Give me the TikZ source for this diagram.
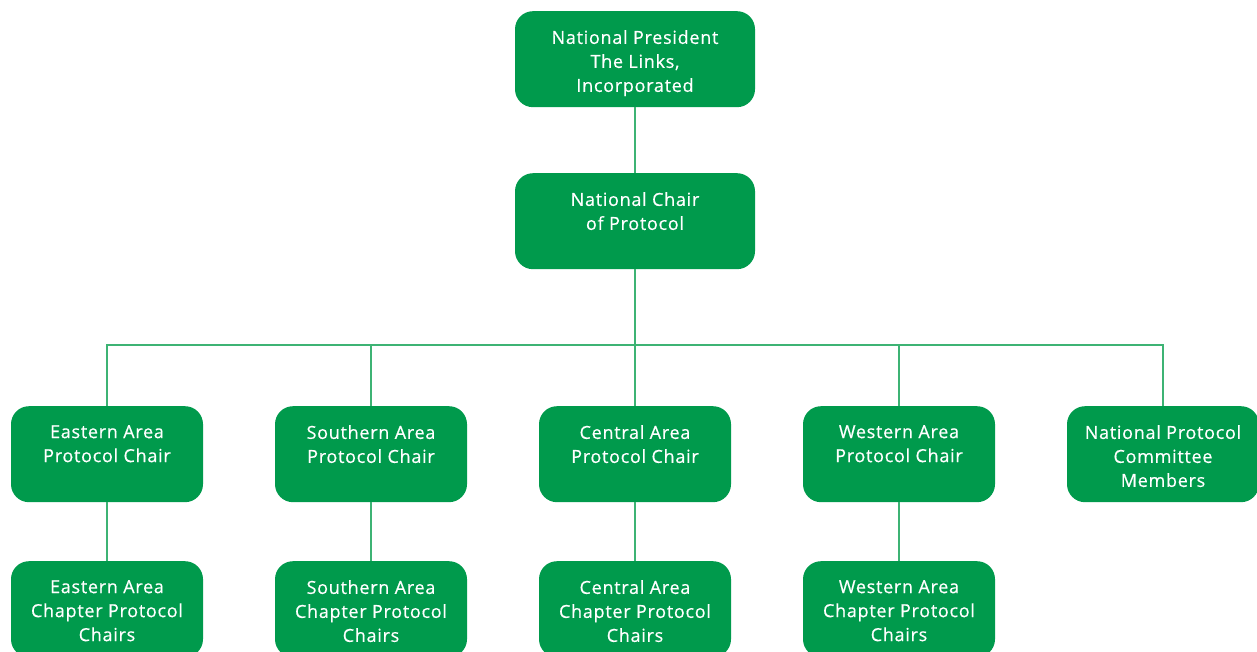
\documentclass[tikz,border=0pt]{standalone}
\usepackage{fontspec}
\setmainfont{Open Sans}[LetterSpace=4,FakeBold=0.5]
\definecolor{linkgreen}{HTML}{009A4C}
\definecolor{linegreen}{HTML}{3DB374}
\tikzset{
  box/.style={draw=none, fill=linkgreen, rounded corners=18pt, minimum width=192pt, minimum height=96pt, inner sep=0pt, anchor=north, text=white, font=\fontsize{18}{24}\selectfont},
  conn/.style={draw=linegreen, line width=1.4pt}
}
\newcommand{\boxtext}[1]{\parbox[c][96pt][t]{188pt}{\centering\vspace*{19pt}#1\par}}
\begin{document}
\begin{tikzpicture}[x=1pt,y=-1pt]
\useasboundingbox (0,0) rectangle (1257,652);
\clip (0,0) rectangle (1257,652);
\node[box, minimum width=240pt] (pres) at (635,11) {\boxtext{National President\\The Links,\\Incorporated}};
\node[box, minimum width=240pt] (chair) at (635,173) {\boxtext{National Chair\\of Protocol}};
\node[box] (east) at (107,406) {\boxtext{Eastern Area\\Protocol Chair}};
\node[box] (south) at (371,406) {\boxtext{Southern Area\\Protocol Chair}};
\node[box] (central) at (635,406) {\boxtext{Central Area\\Protocol Chair}};
\node[box] (west) at (899,406) {\boxtext{Western Area\\Protocol Chair}};
\node[box] (npc) at (1163,406) {\boxtext{National Protocol\\Committee\\Members}};
\node[box] (eastc) at (107,561) {\boxtext{Eastern Area\\Chapter Protocol\\Chairs}};
\node[box] (southc) at (371,561) {\boxtext{Southern Area\\Chapter Protocol\\Chairs}};
\node[box] (centralc) at (635,561) {\boxtext{Central Area\\Chapter Protocol\\Chairs}};
\node[box] (westc) at (899,561) {\boxtext{Western Area\\Chapter Protocol\\Chairs}};
\coordinate (bus) at (635,345);
\draw[conn] (pres.south) -- (chair.north);
\draw[conn] (chair.south) -- (bus);
\draw[conn] (east.north) |- (bus) -| (npc.north);
\draw[conn] (south.north) -- (south.north |- bus);
\draw[conn] (central.north) -- (bus);
\draw[conn] (west.north) -- (west.north |- bus);
\draw[conn] (east.south) -- (eastc.north);
\draw[conn] (south.south) -- (southc.north);
\draw[conn] (central.south) -- (centralc.north);
\draw[conn] (west.south) -- (westc.north);
\end{tikzpicture}
\end{document}
